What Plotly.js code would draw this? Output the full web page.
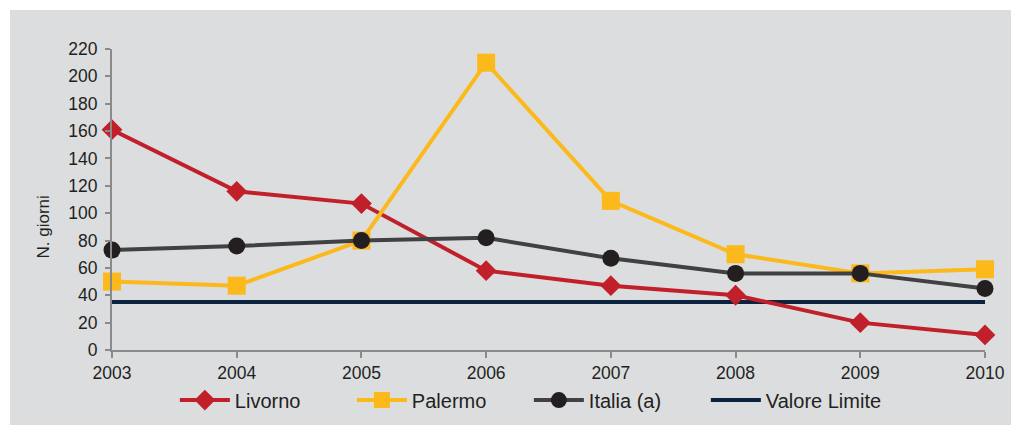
<!DOCTYPE html>
<html>
<head>
<meta charset="utf-8">
<script src="https://cdn.plot.ly/plotly-3.0.1.min.js"></script>
<style>
  html, body { margin: 0; padding: 0; background: #ffffff; }
  #chart { position: absolute; left: 10px; top: 10px; width: 1001px; height: 415px; }
</style>
</head>
<body>
<div id="chart"></div>
<script>
const years = [2003, 2004, 2005, 2006, 2007, 2008, 2009, 2010];
const livorno = [161, 116, 107, 58, 47, 40, 20, 11];
const palermo = [50, 47, 80, 210, 109, 70, 56, 59];
const italia = [73, 76, 80, 82, 67, 56, 56, 45];
const valoreLimite = [35, 35, 35, 35, 35, 35, 35, 35];
const yTicks = [0, 20, 40, 60, 80, 100, 120, 140, 160, 180, 200, 220];

const FONT = "Liberation Sans, Arial, Helvetica, sans-serif";
const TEXT = "#231f20";
const AXIS = "#8a8a8a";
const BG = "#dcddde";

const traces = [
  {
    x: years, y: valoreLimite, name: "Valore Limite", mode: "lines",
    line: { color: "#0c2340", width: 4 }, legendrank: 4, cliponaxis: false
  },
  {
    x: years, y: livorno, name: "Livorno", mode: "lines+markers",
    line: { color: "#c1202b", width: 4 },
    marker: { symbol: "diamond", size: 16, color: "#c1202b" },
    legendrank: 1, cliponaxis: false
  },
  {
    x: years, y: palermo, name: "Palermo", mode: "lines+markers",
    line: { color: "#fbb91b", width: 4 },
    marker: { symbol: "square", size: 18, color: "#fbb91b" },
    legendrank: 2, cliponaxis: false
  },
  {
    x: years, y: italia, name: "Italia (a)", mode: "lines+markers",
    line: { color: "#414042", width: 4 },
    marker: { symbol: "circle", size: 17, color: "#231f20" },
    legendrank: 3, cliponaxis: false
  }
];

const layout = {
  width: 1001, height: 415,
  margin: { l: 102, r: 26, t: 39, b: 75 },
  paper_bgcolor: BG, plot_bgcolor: BG,
  font: { family: FONT, color: TEXT, size: 17 },
  showlegend: true,
  legend: {
    orientation: "h", xref: "paper", x: 0.072, xanchor: "left",
    yref: "container", y: 0.06, yanchor: "middle",
    font: { size: 20, family: FONT, color: TEXT },
    itemwidth: 50, entrywidth: 112, entrywidthmode: "pixels",
    bgcolor: "rgba(0,0,0,0)", traceorder: "normal"
  },
  xaxis: {
    range: [2003, 2010], tickvals: years, ticktext: years.map(String),
    showline: true, linecolor: AXIS, linewidth: 2,
    ticks: "outside", ticklen: 6, tickwidth: 2, tickcolor: AXIS,
    showgrid: false, zeroline: false, fixedrange: true,
    tickfont: { size: 17.5, family: FONT, color: TEXT }
  },
  yaxis: {
    range: [0, 220], tickvals: yTicks,
    showline: true, linecolor: AXIS, linewidth: 2,
    ticks: "outside", ticklen: 5, tickwidth: 2, tickcolor: AXIS,
    showgrid: false, zeroline: false, fixedrange: true,
    tickfont: { size: 17.5, family: FONT, color: TEXT },
    ticklabelstandoff: 4
  },
  annotations: [
    {
      text: "N. giorni", xref: "paper", yref: "paper",
      x: -0.078, y: 0.41, xanchor: "center", yanchor: "middle",
      textangle: -90, showarrow: false,
      font: { size: 17, family: FONT, color: TEXT }
    }
  ]
};

Plotly.newPlot("chart", traces, layout, { displayModeBar: false, staticPlot: true });
</script>
</body>
</html>
